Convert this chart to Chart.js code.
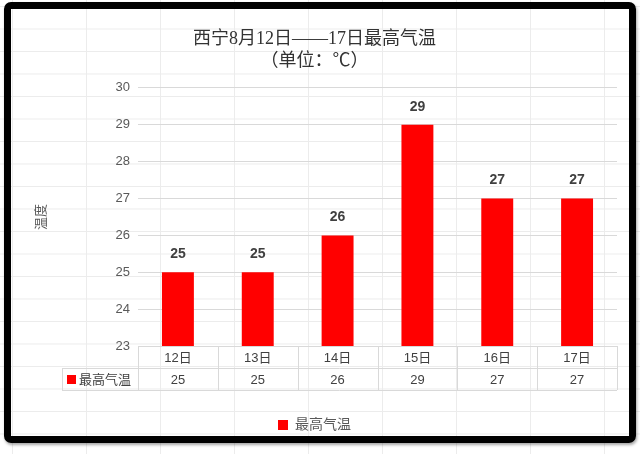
<!DOCTYPE html>
<html>
<head>
<meta charset="utf-8">
<script src="https://cdn.jsdelivr.net/npm/chart.js@4.4.0/dist/chart.umd.min.js"></script>
<style>
html, body { margin: 0; padding: 0; width: 640px; height: 454px; overflow: hidden; background: #fff; }
body {
  background-image: linear-gradient(to right, #ececec 1px, transparent 1px),
                    linear-gradient(to bottom, #ececec 1px, transparent 1px);
  background-size: 74px 22.5px;
  background-position: 12px 6px;
}
#frame { position: absolute; left: 4px; top: 2px; width: 618px; height: 427px;
  border: 7px solid #000; border-radius: 7px; box-shadow: 1px 2px 3px rgba(0,0,0,.35); }
#wrap { position: absolute; left: 0; top: 0; width: 640px; height: 454px; }
</style>
</head>
<body>
<div id="frame"></div>
<div id="wrap"><canvas id="chart"></canvas></div>
<script>
const days = ['12日', '13日', '14日', '15日', '16日', '17日'];
const maxTemp = [25, 25, 26, 29, 27, 27];
const yTicks = [23, 24, 25, 26, 27, 28, 29, 30];
const seriesName = '最高气温';
const titleLines = ['西宁8月12日——17日最高气温', '（单位：℃）'];

const FONT = "'Liberation Sans', 'Noto Sans CJK SC', sans-serif";

// numbers over the bars
const barLabels = {
  id: 'barLabels',
  afterDatasetsDraw(chart) {
    const ctx = chart.ctx;
    ctx.save();
    ctx.font = "bold 14px " + FONT;
    ctx.fillStyle = '#404040';
    ctx.textAlign = 'center';
    ctx.textBaseline = 'middle';
    chart.getDatasetMeta(0).data.forEach((bar, i) => {
      ctx.fillText(maxTemp[i], bar.x, bar.y - 18);
    });
    ctx.restore();
  }
};

// data table under the plot
const dataTable = {
  id: 'dataTable',
  afterDraw(chart) {
    const { ctx, chartArea: a, scales: { x } } = chart;
    const top = a.bottom, mid = top + 22, bottom = top + 44;
    const labelLeft = 62;
    const step = x.getPixelForValue(1) - x.getPixelForValue(0);
    ctx.save();
    ctx.strokeStyle = '#d9d9d9';
    ctx.lineWidth = 1;
    ctx.beginPath();
    ctx.moveTo(a.left, top + 0.5); ctx.lineTo(a.right, top + 0.5);
    ctx.moveTo(labelLeft, mid + 0.5); ctx.lineTo(a.right, mid + 0.5);
    ctx.moveTo(labelLeft, bottom + 0.5); ctx.lineTo(a.right, bottom + 0.5);
    ctx.moveTo(labelLeft + 0.5, mid); ctx.lineTo(labelLeft + 0.5, bottom);
    for (let i = 0; i <= days.length; i++) {
      const xx = Math.round(x.getPixelForValue(i) - step / 2) + 0.5;
      ctx.moveTo(xx, top); ctx.lineTo(xx, bottom);
    }
    ctx.stroke();

    ctx.fillStyle = '#404040';
    ctx.font = "13px " + FONT;
    ctx.textAlign = 'center';
    ctx.textBaseline = 'middle';
    days.forEach((d, i) => {
      const cx = x.getPixelForValue(i);
      ctx.fillText(d, cx, top + 12);
      ctx.fillText(maxTemp[i], cx, mid + 12);
    });
    ctx.fillStyle = '#ff0000';
    ctx.fillRect(labelLeft + 5, mid + 7, 9, 9);
    ctx.fillStyle = '#404040';
    ctx.textAlign = 'left';
    ctx.fillText(seriesName, labelLeft + 17, mid + 12);
    ctx.restore();
  }
};

new Chart(document.getElementById('chart'), {
  type: 'bar',
  data: {
    labels: days,
    datasets: [{
      label: seriesName,
      data: maxTemp,
      backgroundColor: '#ff0000',
      borderWidth: 0,
      categoryPercentage: 1,
      barPercentage: 0.4
    }]
  },
  options: {
    responsive: true,
    maintainAspectRatio: false,
    animation: false,
    layout: { padding: { top: 10, left: 12, right: 23, bottom: 12 } },
    plugins: {
      title: {
        display: true,
        text: titleLines,
        color: '#333333',
        font: { family: "'Liberation Serif', 'Noto Sans CJK SC', serif", size: 18, weight: 'normal', lineHeight: 1.22 },
        padding: { top: 18, bottom: 16 }
      },
      legend: {
        position: 'bottom',
        labels: {
          boxWidth: 10, boxHeight: 10, padding: 10,
          color: '#595959',
          font: { family: FONT, size: 14 }
        }
      },
      tooltip: { enabled: false }
    },
    scales: {
      x: {
        grid: { display: false },
        border: { display: false },
        ticks: { display: false },
        afterFit(s) { s.height = 62; }
      },
      y: {
        min: 23, max: 30,
        afterBuildTicks(s) { s.ticks = yTicks.map(v => ({ value: v })); },
        afterFit(s) { s.width = 126; },
        grid: { color: '#d9d9d9', drawTicks: false },
        border: { display: false },
        ticks: { color: '#595959', padding: 8, font: { family: FONT, size: 13 } },
        title: {
          display: true, text: '温度', color: '#595959',
          font: { family: FONT, size: 13 },
          padding: { top: 22, bottom: 0 }
        }
      }
    }
  },
  plugins: [barLabels, dataTable]
});
</script>
</body>
</html>
